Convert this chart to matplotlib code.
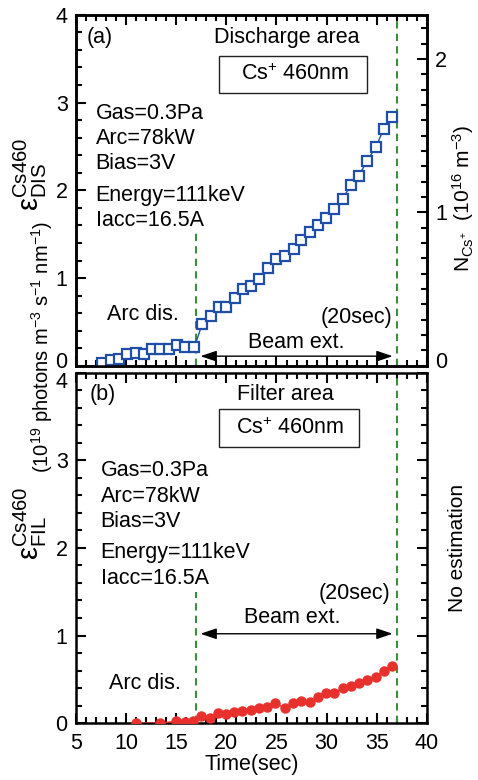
import matplotlib
matplotlib.use("Agg")
import matplotlib.pyplot as plt
import matplotlib.transforms as mtransforms
from matplotlib.patches import Rectangle
from matplotlib.ticker import MultipleLocator

plt.rcParams["font.family"] = ["Liberation Sans", "DejaVu Sans"]
plt.rcParams["mathtext.fontset"] = "custom"
plt.rcParams["mathtext.rm"] = "Liberation Sans"
plt.rcParams["mathtext.it"] = "Liberation Sans:italic"
plt.rcParams["mathtext.bf"] = "Liberation Sans:bold"

# (a) discharge area, Cs+ 460nm emissivity (1e19 photons m-3 s-1 nm-1)
t_dis = [7.6, 8.5, 9.3, 10.1, 11.0, 11.8, 12.6, 13.4, 14.3, 15.1, 15.9, 16.8,
         17.6, 18.5, 19.3, 20.0, 20.9, 21.7, 22.5, 23.3, 24.2, 25.0, 25.8, 26.7,
         27.4, 28.3, 29.1, 29.9, 30.7, 31.6, 32.4, 33.2, 34.0, 34.9, 35.7, 36.5]
eps_dis = [0.03, 0.07, 0.08, 0.13, 0.15, 0.13, 0.19, 0.19, 0.19, 0.24, 0.22, 0.21,
           0.48, 0.57, 0.67, 0.67, 0.77, 0.87, 0.91, 0.99, 1.11, 1.22, 1.25, 1.33,
           1.43, 1.52, 1.61, 1.69, 1.79, 1.90, 2.06, 2.16, 2.33, 2.49, 2.70, 2.84]

# (b) filter area
t_fil = [11.0, 13.4, 15.0, 15.9, 16.7, 17.5, 18.4, 19.2, 20.0, 20.8, 21.6, 22.5,
         23.3, 24.1, 24.9, 25.8, 26.6, 27.4, 28.3, 29.1, 29.9, 30.7, 31.6, 32.4,
         33.2, 34.0, 34.9, 35.7, 36.5]
eps_fil = [0.0, 0.0, 0.02, 0.01, 0.02, 0.08, 0.06, 0.12, 0.10, 0.13, 0.14, 0.15,
           0.17, 0.18, 0.23, 0.17, 0.23, 0.25, 0.24, 0.30, 0.34, 0.34, 0.40, 0.42,
           0.46, 0.49, 0.53, 0.60, 0.65]

beam_on = 17
beam_off = 37
n_scale = 0.572  # N_Cs+ (1e16 m-3) per emissivity unit

BLUE = "#1f4ea8"
RED = "#e8302d"
GREEN = "#3b8f3b"
FS = 15.5

fig = plt.figure(figsize=(4.78, 7.8), dpi=100)
ax_a = fig.add_axes([0.159, 0.531, 0.734, 0.450])
ax_b = fig.add_axes([0.159, 0.073, 0.734, 0.449])


def style(ax, right=True):
    ax.set_xlim(5, 40)
    ax.set_ylim(0, 4)
    ax.xaxis.set_major_locator(MultipleLocator(5))
    ax.xaxis.set_minor_locator(MultipleLocator(1))
    ax.yaxis.set_major_locator(MultipleLocator(1))
    ax.yaxis.set_minor_locator(MultipleLocator(0.2))
    ax.tick_params(which="both", direction="in", top=True, right=right,
                   labelsize=FS, width=1.5)
    ax.tick_params(which="major", length=7)
    ax.tick_params(which="minor", length=4)
    ax.tick_params(axis="y", pad=6)
    ax.tick_params(axis="x", pad=7)
    for s in ax.spines.values():
        s.set_linewidth(1.8)


style(ax_a, right=False)
style(ax_b, right=True)
ax_a.tick_params(labelbottom=False)

ax_n = ax_a.twinx()
ax_n.set_ylim(0, 4 * n_scale)
ax_n.yaxis.set_major_locator(MultipleLocator(1))
ax_n.yaxis.set_minor_locator(MultipleLocator(0.1))
ax_n.tick_params(which="both", direction="in", labelsize=FS, width=1.5, pad=6)
ax_n.tick_params(which="major", length=7)
ax_n.tick_params(which="minor", length=4)
for s in ax_n.spines.values():
    s.set_linewidth(1.8)

# data
ax_a.plot(t_dis, eps_dis, color=BLUE, lw=1, marker="s", ms=6.5,
          mfc="white", mec=BLUE, mew=1.6, zorder=3)
ax_b.plot(t_fil, eps_fil, color=RED, lw=1, marker="o", ms=6.5,
          mfc=RED, mec=RED, zorder=3)

dash = dict(color=GREEN, lw=1.5, dashes=(3.5, 2.5), zorder=2)
ax_a.plot([beam_on, beam_on], [0, 1.52], **dash)
ax_a.plot([beam_off, beam_off], [0, 4], **dash)
ax_b.plot([beam_on, beam_on], [0, 1.5], **dash)
ax_b.plot([beam_off, beam_off], [0, 4], **dash)

arrow = dict(arrowstyle="<|-|>,head_length=0.65,head_width=0.22", color="black",
             lw=1, shrinkA=3, shrinkB=3, mutation_scale=15)

# panel (a) annotations
ax_a.text(6.1, 3.74, "(a)", fontsize=FS, va="center")
ax_a.text(26.0, 3.74, "Discharge area", fontsize=FS, ha="center", va="center")
ax_a.add_patch(Rectangle((19.26, 3.11), 14.74, 0.42, fill=False, lw=1, ec="#222222"))
ax_a.text(26.9, 3.32, r"Cs$^{+}$ 460nm", fontsize=FS, ha="center", va="center")
cond = ["Gas=0.3Pa", "Arc=78kW", "Bias=3V", "Energy=111keV", "Iacc=16.5A"]
ys_a = [2.88, 2.59, 2.31, 1.94, 1.66]
for s, y in zip(cond, ys_a):
    ax_a.text(6.96, y, s, fontsize=FS, va="center")
ax_a.text(8.06, 0.59, "Arc dis.", fontsize=FS, va="center")
ax_a.text(36.6, 0.55, "(20sec)", fontsize=FS, ha="right", va="center")
ax_a.text(27.0, 0.27, "Beam ext.", fontsize=FS, ha="center", va="center")
ax_a.annotate("", xy=(beam_off, 0.11), xytext=(beam_on, 0.11), arrowprops=arrow)

# panel (b) annotations
ax_b.text(6.4, 3.75, "(b)", fontsize=FS, va="center")
ax_b.text(25.9, 3.75, "Filter area", fontsize=FS, ha="center", va="center")
ax_b.add_patch(Rectangle((19.26, 3.15), 13.94, 0.44, fill=False, lw=1, ec="#222222"))
ax_b.text(26.4, 3.37, r"Cs$^{+}$ 460nm", fontsize=FS, ha="center", va="center")
ys_b = [2.88, 2.59, 2.30, 1.95, 1.65]
for s, y in zip(cond, ys_b):
    ax_b.text(7.46, y, s, fontsize=FS, va="center")
ax_b.text(8.3, 0.45, "Arc dis.", fontsize=FS, va="center")
ax_b.text(36.4, 1.48, "(20sec)", fontsize=FS, ha="right", va="center")
ax_b.text(26.6, 1.20, "Beam ext.", fontsize=FS, ha="center", va="center")
ax_b.annotate("", xy=(beam_off, 1.02), xytext=(beam_on, 1.02), arrowprops=arrow)

ax_b.set_xlabel("Time(sec)", fontsize=FS, labelpad=0)

# keep the "0" of (a) and the "4" of (b) apart, as in the original
fig.canvas.draw()
up = mtransforms.ScaledTranslation(0, 4 / 72, fig.dpi_scale_trans)
down = mtransforms.ScaledTranslation(0, -5 / 72, fig.dpi_scale_trans)
for lab in ax_a.get_yticklabels() + ax_n.get_yticklabels():
    if lab.get_text() == "0":
        lab.set_transform(lab.get_transform() + up)
for lab in ax_b.get_yticklabels():
    if lab.get_text() == "4":
        lab.set_transform(lab.get_transform() + down)

# axis labels
fig.text(0.063, 0.776, r"ε$^{\mathrm{Cs460}}_{\mathrm{DIS}}$", fontsize=21,
         rotation=90, ha="center", va="center")
fig.text(0.063, 0.329, r"ε$^{\mathrm{Cs460}}_{\mathrm{FIL}}$", fontsize=21,
         rotation=90, ha="center", va="center")
fig.text(0.088, 0.555, r"(10$^{19}$ photons m$^{-3}$ s$^{-1}$ nm$^{-1}$)",
         fontsize=14.5, rotation=90, ha="center", va="center")
fig.text(0.968, 0.746, r"N$_{\mathrm{Cs^{+}}}$  (10$^{16}$ m$^{-3}$)",
         fontsize=15, rotation=90, ha="center", va="center")
fig.text(0.958, 0.297, "No estimation", fontsize=15, rotation=90,
         ha="center", va="center")

fig.savefig("out.png", dpi=100)
